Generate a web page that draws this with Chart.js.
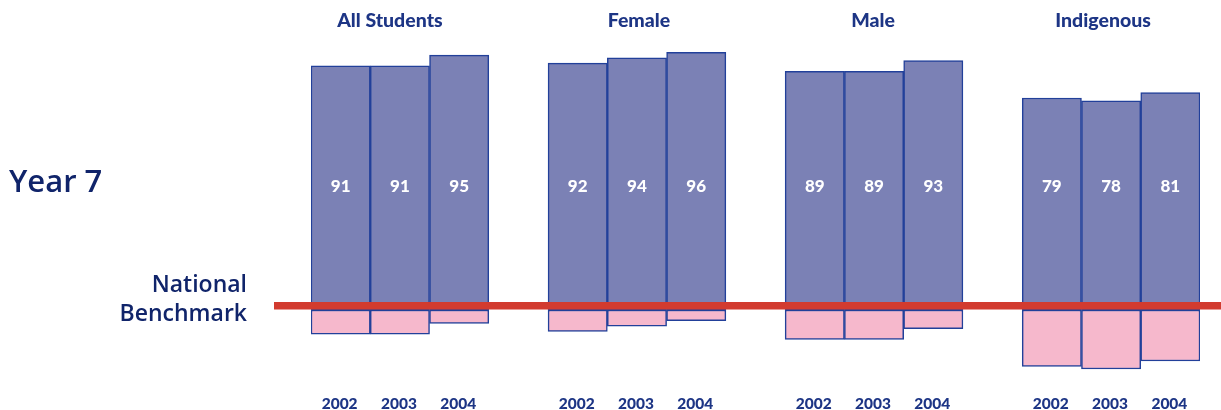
<!DOCTYPE html>
<html>
<head>
<meta charset="utf-8">
<script src="https://cdn.jsdelivr.net/npm/chart.js@4.4.1/dist/chart.umd.min.js"></script>
<style>
  html, body { margin: 0; padding: 0; background: #ffffff; }
  #wrap { width: 1221px; height: 410px; }
</style>
</head>
<body>
<div id="wrap"><canvas id="c" width="1221" height="410"></canvas></div>
<script>
// Percentage of students at or above the national benchmark, Year 7
const groups = ['All Students', 'Female', 'Male', 'Indigenous'];
const years = ['2002', '2003', '2004'];
const allStudents = [91, 91, 95];
const female = [92, 94, 96];
const male = [89, 89, 93];
const indigenous = [79, 78, 81];
const fullScale = 100;

const groupValues = [allStudents, female, male, indigenous];

// One slot per year bar, plus an empty slot between groups
const slotLabels = [];
const aboveValues = [];
const belowValues = [];
groupValues.forEach((vals, g) => {
  vals.forEach((v, i) => {
    slotLabels.push(years[i]);
    aboveValues.push(v);
    belowValues.push(-(fullScale - v));
  });
  if (g < groupValues.length - 1) {
    slotLabels.push('');
    aboveValues.push(null);
    belowValues.push(null);
  }
});

const NAVY = '#1d3585';
const DARK_NAVY = '#10246a';
const BORDER = '#22409a';

const overlay = {
  id: 'overlay',
  afterDatasetsDraw(chart) {
    const { ctx } = chart;
    const xs = chart.scales.x;
    const ys = chart.scales.y;
    const zeroY = ys.getPixelForValue(0);

    // National benchmark line
    ctx.save();
    ctx.fillStyle = '#d23b2f';
    ctx.fillRect(274, zeroY - 8, 1221 - 274, 7.5);

    // Values inside the bars
    ctx.fillStyle = '#ffffff';
    ctx.font = '900 17px Lato, "Open Sans", sans-serif';
    ctx.textAlign = 'center';
    ctx.textBaseline = 'middle';
    const labelY = ys.getPixelForValue(46.2);
    aboveValues.forEach((v, i) => {
      if (v === null) return;
      ctx.fillText(String(v), xs.getPixelForValue(i), labelY);
    });

    // Year labels under the bars
    ctx.fillStyle = NAVY;
    ctx.font = '900 15.5px Lato, "Open Sans", sans-serif';
    slotLabels.forEach((t, i) => {
      if (!t) return;
      ctx.fillText(t, xs.getPixelForValue(i) - 1, 404);
    });

    // Group headings
    ctx.font = '900 19.5px Lato, "Open Sans", sans-serif';
    const headingShift = [-10, 2, -1, -8];
    groups.forEach((name, g) => {
      const mid = g * 4 + 1;
      ctx.fillText(name, xs.getPixelForValue(mid) + headingShift[g], 21);
    });

    // Row and benchmark captions
    ctx.fillStyle = DARK_NAVY;
    ctx.font = '600 31px "Open Sans", "Noto Sans", sans-serif';
    ctx.textAlign = 'left';
    ctx.fillText('Year 7', 9, 183);
    ctx.font = '600 23px "Open Sans", "Noto Sans", sans-serif';
    ctx.textAlign = 'right';
    ctx.fillText('National', 247, 285);
    ctx.fillText('Benchmark', 247, 314);
    ctx.restore();
  }
};

new Chart(document.getElementById('c'), {
  type: 'bar',
  data: {
    labels: slotLabels,
    datasets: [
      {
        label: 'At or above benchmark',
        data: aboveValues,
        backgroundColor: '#7b81b5',
        borderColor: BORDER,
        borderWidth: 1.5,
        borderSkipped: false,
        categoryPercentage: 1,
        barPercentage: 1
      },
      {
        label: 'Below benchmark',
        data: belowValues,
        backgroundColor: '#f6b8cc',
        borderColor: BORDER,
        borderWidth: 1.5,
        borderSkipped: false,
        categoryPercentage: 1,
        barPercentage: 1
      }
    ]
  },
  options: {
    responsive: false,
    devicePixelRatio: 1,
    animation: false,
    layout: { padding: { left: 311, right: 21, top: 41.7, bottom: 19.5 } },
    scales: {
      x: { display: false, stacked: true, grid: { display: false } },
      y: { display: false, stacked: true, min: -30, max: 100, grid: { display: false } }
    },
    plugins: {
      legend: { display: false },
      tooltip: { enabled: false }
    }
  },
  plugins: [overlay]
});
</script>
</body>
</html>
